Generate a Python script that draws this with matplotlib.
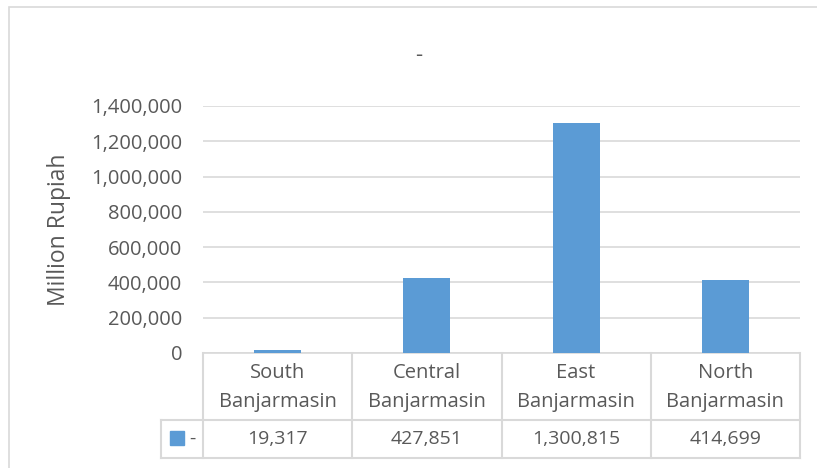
import matplotlib.pyplot as plt
from matplotlib.patches import Rectangle
from matplotlib.ticker import FuncFormatter

plt.rcParams['font.family'] = ['Open Sans', 'DejaVu Sans']

categories = ["South\nBanjarmasin", "Central\nBanjarmasin", "East\nBanjarmasin", "North\nBanjarmasin"]
values = [19317, 427851, 1300815, 414699]
series_name = "-"
title = "-"
ylabel = "Million Rupiah"
yticks = [0, 200000, 400000, 600000, 800000, 1000000, 1200000, 1400000]

W, H = 817, 468
bar_color = "#5b9bd5"
grid_color = "#d9d9d9"
text_color = "#595959"
fs = 14

fig = plt.figure(figsize=(W / 100, H / 100), dpi=100)

# outer chart border (only top/left visible in the crop)
fig.patches.append(Rectangle((9 / W, -0.1), 1.2, 1 - 7 / H + 0.1, transform=fig.transFigure,
                             fill=False, edgecolor=grid_color, lw=1.2))

def px_axes(x0, y0, x1, y1):
    return fig.add_axes([x0 / W, 1 - y1 / H, (x1 - x0) / W, (y1 - y0) / H])

ax = px_axes(203, 106, 800, 353)
x = range(len(values))
ax.bar(x, values, width=0.315, color=bar_color, zorder=3)
ax.set_xlim(-0.5, len(values) - 0.5)
ax.set_ylim(0, 1400000)
ax.set_yticks(yticks)
ax.yaxis.set_major_formatter(FuncFormatter(lambda v, p: f"{int(v):,}"))
ax.grid(axis="y", color=grid_color, lw=1.2, zorder=0)
ax.set_xticks([])
for s in ["top", "right", "left"]:
    ax.spines[s].set_visible(False)
ax.spines["bottom"].set_color(grid_color)
ax.spines["bottom"].set_linewidth(1.2)
ax.tick_params(axis="y", length=0, pad=15, labelsize=fs + 0.5, labelcolor=text_color)
ax.set_ylabel(ylabel, fontsize=16.5, color=text_color)
ax.yaxis.set_label_coords((71 - 203) / 597, 0.5)
fig.text(419 / W, 1 - 55 / H, title, fontsize=16, color=text_color, ha="center", va="center")

# data table below the axis
tab = px_axes(203, 353, 800, 458)
tab.set_xlim(-0.5, len(values) - 0.5)
tab.set_ylim(0, 1)
tab.axis("off")
cw = 597 / len(values)
div = (458 - 420) / (458 - 353)
left = -0.5 - (203 - 161) / cw
lk = dict(color=grid_color, lw=1.5, clip_on=False)
for i in range(len(values) + 1):
    tab.plot([i - 0.5, i - 0.5], [0, 1], **lk)
tab.plot([left, len(values) - 0.5], [div, div], **lk)
tab.plot([left, len(values) - 0.5], [0, 0], **lk)
tab.plot([left, left], [0, div], **lk)
for i, (c, v) in enumerate(zip(categories, values)):
    tab.text(i, (1 + div) / 2 - 0.01, c, ha="center", va="center", fontsize=fs + 0.5,
             color=text_color, linespacing=1.55)
    tab.text(i, div / 2, f"{v:,}", ha="center", va="center", fontsize=fs, color=text_color)
# legend key in the table
kx = -0.5 - (203 - 170) / cw
kw = 14 / cw
tab.add_patch(Rectangle((kx, (458 - 445) / 105), kw, 14 / 105, color=bar_color, clip_on=False))
tab.text(kx + kw + 5 / cw, div / 2, series_name, ha="left", va="center",
         fontsize=fs, color=text_color)

fig.savefig("out.png", dpi=100)
